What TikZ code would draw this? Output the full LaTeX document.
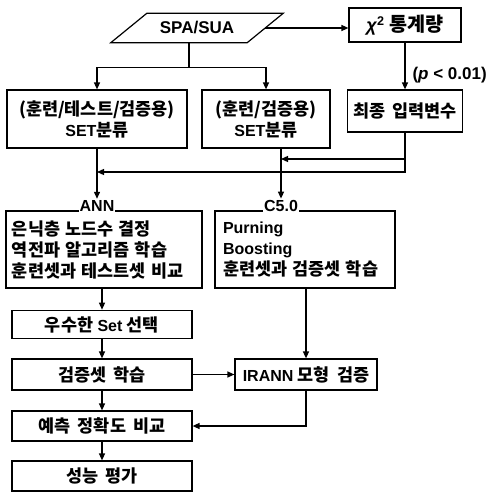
\documentclass[tikz,border=0pt]{standalone}
\usepackage{fontspec}
\setmainfont{Liberation Sans}
\newfontfamily\korfont{Noto Sans CJK KR}[Scale=1.09, WordSpace=1.8]
\newcommand{\hangul}[1]{{\korfont #1}}
\usetikzlibrary{arrows.meta}

\begin{document}
\begin{tikzpicture}[x=1pt, y=-1pt,
    font=\fontsize{16}{21}\selectfont\bfseries,
    box/.style={draw, line width=1.2pt, inner sep=6pt, align=center},
    tag/.style={fill=white, inner sep=1pt, anchor=base},
    link/.style={line width=1.3pt},
    flow/.style={link, -{Triangle[length=7pt,width=6pt]}}]
        \useasboundingbox (0,0) rectangle (488,492);
        \def\slant{18pt}

        % Input and chi-square branch
        \node[minimum width=136, minimum height=29, font=\fontsize{17}{20}\selectfont\bfseries] (src) at (197,28) {SPA/SUA};
        \draw[line width=1.2pt] ([xshift=-\slant]src.south west) -- ([xshift=\slant]src.north west)
            -- ([xshift=\slant]src.north east) -- ([xshift=-\slant]src.south east) -- cycle;
        \node[box, minimum width=112, minimum height=34] (chi) at (405,25) {\fontsize{18}{20}\selectfont\textit{χ}\textsuperscript{2} \hangul{통계량}};
        \node[box, minimum width=114, minimum height=42] (final) at (405,111) {\hangul{최종 입력변수}};
        \node[anchor=west, font=\fontsize{17}{20}\selectfont\bfseries] (pval) at (409,75) {(\textit{p} < 0.01)};

        % Set split
        \node[box, minimum width=180, minimum height=58] (setA) at (97,119) {\hangul{(훈련/테스트/검증용)}\\SET\hangul{분류}};
        \node[box, minimum width=128, minimum height=58] (setB) at (266,119) {\hangul{(훈련/검증용)}\\SET\hangul{분류}};

        % Models
        \node[box, minimum width=196, minimum height=77, text width=184, align=left] (ann) at (104,249.5)
            {\hangul{은닉층 노드수 결정}\\\hangul{역전파 알고리즘 학습}\\\hangul{훈련셋과 테스트셋 비교}};
        \node[box, inner sep=8pt, minimum width=180, minimum height=77, text width=164, align=left] (c5) at (305,249.5)
            {Purning\\Boosting\\\hangul{훈련셋과 검증셋 학습}};
        \node[tag] (annlab) at (97,211) {ANN};
        \node[tag] (c5lab) at (281,211) {C5.0};

        % Evaluation chain
        \node[box, minimum width=180, minimum height=28] (best) at (102,324.5) {\hangul{우수한} Set \hangul{선택}};
        \node[box, minimum width=180, minimum height=31] (valid) at (102,374.5) {\hangul{검증셋 학습}};
        \node[box, minimum width=180, minimum height=30] (pred) at (102,426) {\hangul{예측 정확도 비교}};
        \node[box, minimum width=180, minimum height=30] (perf) at (102,476) {\hangul{성능 평가}};
        \node[box, minimum width=142, minimum height=31, inner sep=2pt] (irann) at (306,374.5) {IRANN \hangul{모형 검증}};

        % Connectors
        \draw[flow] (src.east) -- (src.east -| chi.west);
        \draw[flow] (chi.south) -- (final.north);
        \draw[link] ([xshift=-8pt]src.south) -- ++(0,25) coordinate (fork);
        \draw[flow] (fork) -| (setA.north);
        \draw[flow] (fork) -| (setB.north);
        \draw[flow] (setA.south) -- (setA.south |- annlab.north);
        \draw[flow] (c5lab.north |- setB.south) -- (c5lab.north);
        \coordinate (joinB) at (281,159);
        \coordinate (joinA) at (97,172);
        \draw[flow] (final.south) |- (joinB);
        \draw[flow] (final.south) |- (joinA);
        \draw[flow] (best.north |- ann.south) -- (best.north);
        \draw[flow] (best.south) -- (valid.north);
        \draw[flow] (valid.south) -- (pred.north);
        \draw[flow] (pred.south) -- (perf.north);
        \draw[flow] (valid.east) -- (irann.west);
        \draw[flow] (irann.north |- c5.south) -- (irann.north);
        \draw[flow] (irann.south) |- (pred.east);
\end{tikzpicture}
\end{document}
